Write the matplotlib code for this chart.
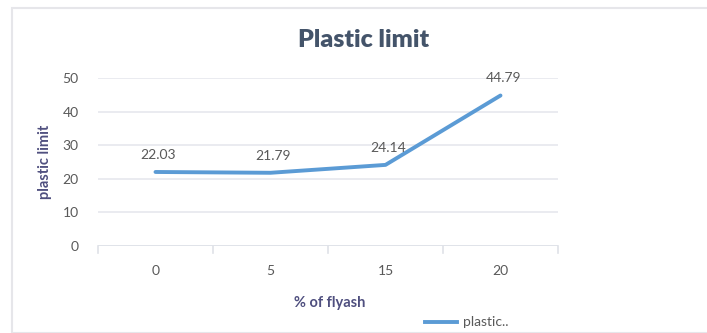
import matplotlib
matplotlib.use("Agg")
import matplotlib.pyplot as plt
import numpy as np
from matplotlib.patches import Rectangle
from matplotlib.lines import Line2D

categories = ["0", "5", "15", "20"]
plastic_limit = [22.03, 21.79, 24.14, 44.79]
y_ticks = [0, 10, 20, 30, 40, 50]

plt.rcParams['font.family'] = ['Lato', 'DejaVu Sans']

W, H = 707, 333
fig = plt.figure(figsize=(W / 100, H / 100), dpi=100)
fig.patch.set_facecolor("white")

# chart frame
fig.add_artist(Rectangle((12 / W, 0), 1.0, 1 - 8 / H, transform=fig.transFigure,
                         fill=False, edgecolor="#e6e6ea", linewidth=1.5))

ax = fig.add_axes([98 / W, 1 - 246 / H, 460 / W, 168 / H])
x = np.arange(len(categories))
ax.set_xlim(-0.5, len(categories) - 0.5)
ax.set_ylim(0, 50)

for spine in ax.spines.values():
    spine.set_visible(False)
ax.set_yticks(y_ticks)
ax.set_yticklabels([str(v) for v in y_ticks], fontsize=10, color="#595959")
ax.tick_params(axis="y", length=0, pad=14)
ax.set_xticks(x)
ax.set_xticklabels(categories, fontsize=10, color="#595959")
ax.tick_params(axis="x", length=0, pad=14)
ax.grid(axis="y", color="#e6e8ee", linewidth=1.2)
ax.set_axisbelow(True)
ax.axhline(0, color="#dfe2e8", linewidth=1.2, zorder=1)
for b in np.arange(-0.5, len(categories), 1.0):
    ax.plot([b, b], [0, -2], color="#dfe2e8", linewidth=1.2, clip_on=False)

ax.plot(x, plastic_limit, color="#5b9bd5", linewidth=2.8,
        solid_capstyle="round", solid_joinstyle="round", zorder=3)

for xi, v in zip(x, plastic_limit):
    ax.annotate(f"{v:.2f}", (xi, v), xytext=(2, 8), textcoords="offset points",
                ha="center", va="bottom", fontsize=10, color="#595959")

fig.text(364 / W, 1 - 40 / H, "Plastic limit", ha="center", va="center",
         fontsize=18, fontweight="heavy", color="#44546a")
fig.text(45 / W, 1 - 162 / H, "plastic limit", ha="center", va="center",
         rotation=90, fontsize=10.5, fontweight="bold", color="#4f4f7f")
fig.text(330 / W, 1 - 303 / H, "% of flyash", ha="center", va="center",
         fontsize=10.5, fontweight="bold", color="#4f4f7f")

# legend
fig.add_artist(Line2D([425 / W, 457 / W], [1 - 322 / H, 1 - 322 / H],
                      transform=fig.transFigure, color="#5b9bd5", linewidth=2.8))
fig.text(463 / W, 1 - 322 / H, "plastic..", ha="left", va="center",
         fontsize=10, color="#595959")

fig.savefig("out.png", dpi=100)
